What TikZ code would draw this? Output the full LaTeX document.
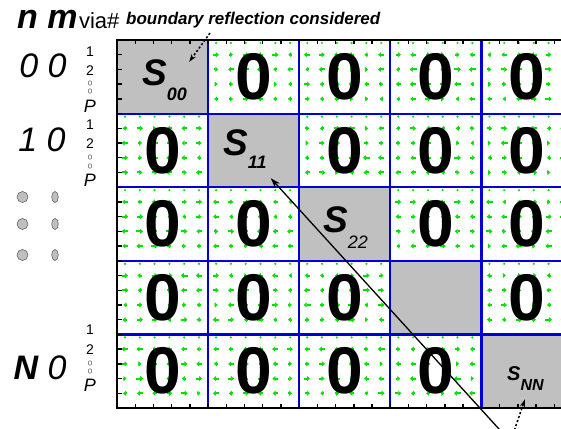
\documentclass[tikz,border=0pt]{standalone}
\usepackage{fontspec}
\setmainfont{Liberation Sans}
\usetikzlibrary{arrows.meta,positioning}

\definecolor{vecgreen}{RGB}{0,225,0}
\definecolor{cellgray}{RGB}{192,192,192}
\definecolor{gridblue}{RGB}{0,0,215}

\begin{document}
\begin{tikzpicture}[
  x=1pt, y=-1pt,
  zero/.style={font=\fontsize{66}{66}\selectfont\bfseries, inner sep=0pt},
  slab/.style={font=\fontsize{37}{37}\selectfont\bfseries\itshape, inner sep=0pt, anchor=base west},
  rowlab/.style={font=\fontsize{34}{34}\selectfont\itshape, inner sep=0pt},
  stk/.style={font=\fontsize{14}{14}\selectfont, inner sep=0pt},
  stkP/.style={font=\fontsize{18}{18}\selectfont\itshape, inner sep=0pt},
  tick/.style={black, line width=1.4pt},
  vec/.style={vecgreen, line width=2pt, -{Triangle[length=3pt,width=5pt]}},
  gridln/.style={gridblue, line width=2.2pt},
  frame/.style={black, line width=2.2pt},
  graycell/.style={fill=cellgray, draw=black!55, line width=1pt},
  arr/.style={-{Stealth[length=10pt,width=6.5pt]}, line width=1.3pt},
  dotarr/.style={-{Stealth[length=8pt,width=5pt]}, line width=1.5pt, dash pattern=on 2.2pt off 2pt},
  dot/.style={draw=black!60, fill=black!25, line width=0.6pt},
]

\useasboundingbox (0,0) rectangle (561,428);
\fill[white] (0,0) rectangle (561,428);
\clip (0,0) rectangle (561,428);

%% ── vector field in the off-diagonal blocks ─────────────────────
\pgfmathsetseed{11}
\foreach \r in {0,...,4} {
  \foreach \c in {0,...,4} {
    \ifnum\r=\c\relax\else
      \pgfmathsetmacro\xo{117+91.1*\c}
      \pgfmathsetmacro\yo{40+73.6*\r}
      \foreach \i in {0,...,5} {
        \pgfmathsetmacro\mx{\xo+8+14.8*\i}
        \fill[vecgreen] (\mx,\yo+3) circle (1.2pt);
        \foreach \j in {1,...,4} {
          \pgfmathsetmacro\my{\yo+14.72*\j}
          \pgfmathsetmacro\ml{1.5+2*rnd}
          \pgfmathsetmacro\md{rnd>0.5 ? 1 : -1}
          \draw[vec] (\mx-\md*\ml,\my) -- (\mx+\md*\ml,\my);
        }
      }
    \fi
  }
}

%% ── diagonal blocks ─────────────────────────────────────────────
\foreach \k in {0,...,4}
  \draw[graycell] (117+91.1*\k,40+73.6*\k) rectangle ++(91.1,73.6);

%% ── grid lines, frame and ticks ─────────────────────────────────
\foreach \k in {1,...,4} {
  \draw[gridln] (117+91.1*\k,40) -- (117+91.1*\k,408);
  \draw[gridln] (117,40+73.6*\k) -- (561,40+73.6*\k);
}
\draw[frame] (561,40) -- (117,40) -- (117,408) -- (561,408);
\foreach \k in {1,...,24} {
  \draw[tick] (117+18.22*\k,40) -- ++(0,4.5);
  \draw[tick] (117+18.22*\k,408) -- ++(0,-4.5);
}
\foreach \k in {1,...,24}
  \draw[tick] (117,40+14.72*\k) -- ++(4.5,0);

%% ── block labels ────────────────────────────────────────────────
\foreach \r in {0,...,4} {
  \foreach \c in {0,...,4} {
    \ifnum\r=\c\relax\else
      \node[zero] (z\r\c) at (117+91.1*\c+45.5,40+73.6*\r+36.8) {0};
    \fi
  }
}
\node[slab] (s00) at (142,85) {S\raisebox{-15pt}{\fontsize{18}{18}\selectfont 00}};
\node[slab] (s11) at (223,155) {S\raisebox{-13pt}{\fontsize{18}{18}\selectfont 11}};
\node[slab] (s22) at (323,232) {S\raisebox{-16pt}{\fontsize{18}{18}\selectfont\mdseries 22}};
\node[slab, font=\fontsize{20}{20}\selectfont\bfseries\itshape] (sNN) at (507,380)
  {S\raisebox{-10pt}{\fontsize{16}{16}\selectfont NN}};

%% ── arrows ──────────────────────────────────────────────────────
\coordinate (bndtail) at (210,33);
\coordinate (diagtail) at (509,440);
\coordinate (nntail) at (513,434);
\draw[dotarr] (bndtail) -- ([shift={(2,3)}]s00.north east);
\draw[arr] (diagtail) -- ([shift={(4,10)}]s11.south east);
\draw[dotarr] (nntail) -- ([shift={(18,9)}]sNN.south west);

%% ── header ──────────────────────────────────────────────────────
\node[anchor=base west, inner sep=0pt, font=\fontsize{34}{34}\selectfont\bfseries\itshape]
  (nm) at (17,29) {n m};
\node[right=1pt of nm.base east, anchor=base west, inner sep=0pt, font=\fontsize{22}{22}\selectfont]
  (via) {via\#};
\node[anchor=base west, inner sep=0pt, font=\fontsize{17}{17}\selectfont\bfseries\itshape]
  (bnd) at (126,25) {boundary reflection considered};

%% ── row labels ──────────────────────────────────────────────────
\node[rowlab] (row0) at (43,66) {0 0};
\node[rowlab] (row1) at (42,140) {1 0};
\node[rowlab] (rowN) at (40,368) {{\bfseries N} 0};

% index stacks
\node[stk]  (a1) at (90,52) {1};
\node[stk]  (a2) at (90,71) {2};
\node[stkP] (aP) at (90,106) {P};
\node[stk]  (b1) at (90,125) {1};
\node[stk]  (b2) at (90,144) {2};
\node[stkP] (bP) at (90,180) {P};
\node[stk]  (c1) at (90,330) {1};
\node[stk]  (c2) at (90,350) {2};
\node[stkP] (cP) at (90,385) {P};
\foreach \y in {83,91,157,166,363,371}
  \draw[black!55, line width=0.6pt] (90,\y) ellipse [x radius=1.8pt, y radius=2.3pt];

% ellipsis dots
\foreach \y in {197,224,255} {
  \draw[dot] (22.5,\y) circle (5.5pt);
  \draw[dot] (55,\y) ellipse [x radius=3.3pt, y radius=5.5pt];
}

\end{tikzpicture}
\end{document}
